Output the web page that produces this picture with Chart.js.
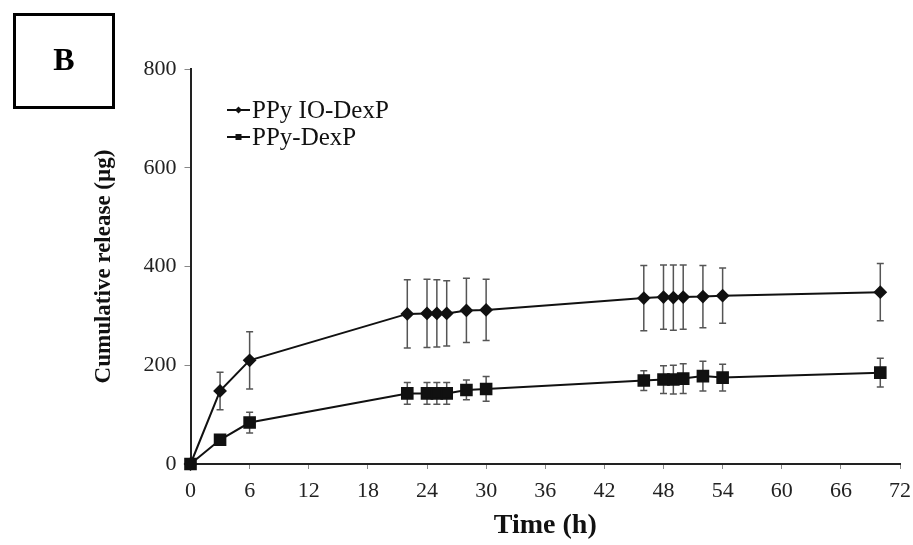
<!DOCTYPE html>
<html lang="en">
<head>
  <meta charset="UTF-8" />
  <title>Cumulative release</title>
  <style>
    html, body { margin: 0; padding: 0; background: #fff; }
    #chart { display: block; }
  </style>
</head>
<body>
  <canvas id="chart" width="913" height="545"></canvas>

  <script src="https://cdn.jsdelivr.net/npm/chart.js"></script>
  <script>
    // values
    const times = [0, 3, 6, 22, 24, 25, 26, 28, 30, 46, 48, 49, 50, 52, 54, 70];
    const ioDexP = [0, 148, 210, 304, 305, 305, 305, 311, 312, 336, 338, 337, 338, 339, 341, 348];
    const ioDexPErr = [0, 38, 58, 69, 69, 68, 66, 65, 62, 66, 65, 66, 65, 63, 56, 58];
    const dexP = [0, 49, 84, 143, 143, 143, 143, 150, 152, 169, 171, 171, 173, 178, 175, 185];
    const dexPErr = [0, 6, 21, 22, 22, 22, 22, 20, 25, 20, 28, 29, 30, 30, 27, 29];
    const seriesNames = ["PPy IO-DexP", "PPy-DexP"];
    const yTicks = [0, 200, 400, 600, 800];

    const serif = "'Liberation Serif', 'Times New Roman', serif";

    function toPoints(xs, ys) {
      return xs.map((x, i) => ({ x: x, y: ys[i] }));
    }

    // error bars, drawn under the lines
    const errorBars = {
      id: "errorBars",
      beforeDatasetsDraw(chart) {
        const ctx = chart.ctx;
        const xs = chart.scales.x, ys = chart.scales.y;
        ctx.save();
        ctx.strokeStyle = "#555";
        ctx.lineWidth = 1.5;
        chart.data.datasets.forEach(ds => {
          ds.errors.forEach((e, i) => {
            if (!e) return;
            const p = ds.data[i];
            const px = xs.getPixelForValue(p.x);
            const top = ys.getPixelForValue(p.y + e);
            const bot = ys.getPixelForValue(p.y - e);
            ctx.beginPath();
            ctx.moveTo(px, top); ctx.lineTo(px, bot);
            ctx.moveTo(px - 3.5, top); ctx.lineTo(px + 3.5, top);
            ctx.moveTo(px - 3.5, bot); ctx.lineTo(px + 3.5, bot);
            ctx.stroke();
          });
        });
        ctx.restore();
      }
    };

    // panel letter and the legend inside the plot
    const extras = {
      id: "extras",
      afterDraw(chart) {
        const ctx = chart.ctx;
        ctx.save();
        // "B" box
        ctx.strokeStyle = "#000";
        ctx.lineWidth = 3;
        ctx.strokeRect(14.5, 14.5, 99, 93);
        ctx.fillStyle = "#000";
        ctx.font = "bold 32px " + serif;
        ctx.textAlign = "center";
        ctx.textBaseline = "middle";
        ctx.fillText("B", 64, 62);

        // legend
        ctx.font = "25px " + serif;
        ctx.textAlign = "left";
        const rows = [110, 137];
        chart.data.datasets.forEach((ds, i) => {
          const y = rows[i];
          ctx.strokeStyle = "#111";
          ctx.lineWidth = 2;
          ctx.beginPath();
          ctx.moveTo(227, y); ctx.lineTo(250, y);
          ctx.stroke();
          ctx.fillStyle = "#111";
          ctx.beginPath();
          if (ds.pointStyle === "rectRot") {
            ctx.moveTo(238.5, y - 3.5); ctx.lineTo(242, y);
            ctx.lineTo(238.5, y + 3.5); ctx.lineTo(235, y);
          } else {
            ctx.rect(235.5, y - 3, 6, 6);
          }
          ctx.fill();
          ctx.fillText(ds.label, 252, y + 1);
        });
        ctx.restore();
      }
    };

    new Chart(document.getElementById("chart"), {
      type: "line",
      data: {
        datasets: [
          {
            label: seriesNames[0],
            data: toPoints(times, ioDexP),
            errors: ioDexPErr,
            borderColor: "#111",
            backgroundColor: "#111",
            borderWidth: 2,
            pointStyle: "rectRot",
            pointRadius: 5.5,
            tension: 0,
            clip: false
          },
          {
            label: seriesNames[1],
            data: toPoints(times, dexP),
            errors: dexPErr,
            borderColor: "#111",
            backgroundColor: "#111",
            borderWidth: 2,
            pointStyle: "rect",
            pointRadius: 7.5,
            tension: 0,
            clip: false
          }
        ]
      },
      options: {
        responsive: false,
        animation: false,
        layout: { padding: { left: 90, top: 69, right: 13, bottom: 0 } },
        plugins: {
          legend: { display: false },
          tooltip: { enabled: false }
        },
        scales: {
          x: {
            type: "linear",
            min: 0,
            max: 72,
            afterFit: s => { s.height = 81; s.paddingLeft = 0; s.paddingRight = 0; },
            ticks: {
              stepSize: 6,
              padding: 9,
              color: "#222",
              font: { family: serif, size: 22 }
            },
            grid: { drawOnChartArea: false, drawTicks: true, tickLength: 5, color: "#888" },
            border: { display: true, color: "#222", width: 2 },
            title: {
              display: true,
              text: "Time (h)",
              color: "#111",
              padding: { top: 0, bottom: 2 },
              font: { family: serif, size: 28, weight: "bold" }
            }
          },
          y: {
            min: 0,
            max: 800,
            afterFit: s => { s.width = 100.5; },
            afterBuildTicks: s => { s.ticks = yTicks.map(v => ({ value: v })); },
            ticks: {
              padding: 8,
              color: "#222",
              font: { family: serif, size: 22 }
            },
            grid: { drawOnChartArea: false, drawTicks: true, tickLength: 6, color: "#888" },
            border: { display: true, color: "#222", width: 2 },
            title: {
              display: true,
              text: "Cumulative release (µg)",
              color: "#111",
              padding: { top: 0, bottom: 0 },
              font: { family: serif, size: 23, weight: "bold" }
            }
          }
        }
      },
      plugins: [errorBars, extras]
    });
  </script>
</body>
</html>
